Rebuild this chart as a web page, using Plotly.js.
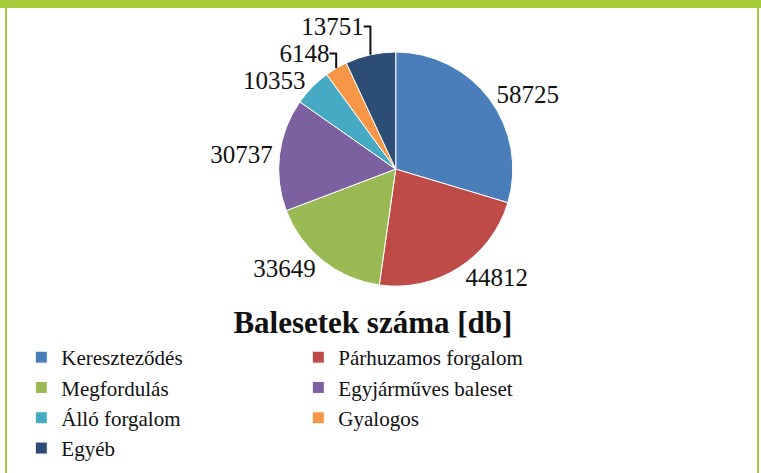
<!DOCTYPE html>
<html>
<head>
<meta charset="utf-8">
<script src="https://cdn.plot.ly/plotly-3.0.1.min.js"></script>
<style>
html,body{margin:0;padding:0;background:#fff;}
#chart{width:761px;height:473px;}
</style>
</head>
<body>
<div id="chart"></div>
<script>
const categories = ["Kereszteződés","Párhuzamos forgalom","Megfordulás","Egyjárműves baleset","Álló forgalom","Gyalogos","Egyéb"];
const values = [58725, 44812, 33649, 30737, 10353, 6148, 13751];
const colors = ["#4A7EBB","#BE4B48","#98B954","#7D60A0","#46AAC5","#F79646","#2C4D75"];
const chartTitle = "Balesetek száma [db]";

const serif = "'Liberation Serif', 'Times New Roman', Times, serif";
const trace = {
  type: "pie",
  labels: categories,
  values: values,
  sort: false,
  direction: "clockwise",
  rotation: 0,
  marker: {colors: colors, line: {color: "#ffffff", width: 1}},
  textposition: "outside",
  texttemplate: "%{value:.0f}",
  textfont: {family: serif, size: 25, color: "#111"},
  outsidetextfont: {family: serif, size: 25, color: "#111"},
  hoverinfo: "label+value",
  domain: {x: [0.1, 0.94], y: [0.395, 0.89]}
};
const layout = {
  width: 761, height: 473,
  margin: {l: 0, r: 0, t: 0, b: 0},
  paper_bgcolor: "#ffffff",
  title: {
    text: "<b>" + chartTitle + "</b>",
    font: {family: serif, size: 31, color: "#111"},
    x: 0.49, xanchor: "center", xref: "paper",
    y: 1 - 322/473, yanchor: "middle", yref: "container"
  },
  showlegend: true,
  legend: {
    orientation: "h",
    x: 0.028, xanchor: "left",
    y: 1 - 337/473, yanchor: "top",
    entrywidth: 232, entrywidthmode: "pixels",
    font: {family: serif, size: 21, color: "#111"},
    itemwidth: 30,
    traceorder: "normal"
  },
  shapes: [
    {type: "rect", xref: "paper", yref: "paper", x0: 0, x1: 1, y0: 1 - 8/473, y1: 1, fillcolor: "#A6CC3A", line: {width: 0}},
    {type: "rect", xref: "paper", yref: "paper", x0: 5/761, x1: 7/761, y0: 0, y1: 1, fillcolor: "#A6CC3A", line: {width: 0}},
    {type: "rect", xref: "paper", yref: "paper", x0: 757/761, x1: 759/761, y0: 0, y1: 1, fillcolor: "#A6CC3A", line: {width: 0}}
  ]
};
Plotly.newPlot("chart", [trace], layout, {displayModeBar: false, staticPlot: true});
</script>
</body>
</html>
